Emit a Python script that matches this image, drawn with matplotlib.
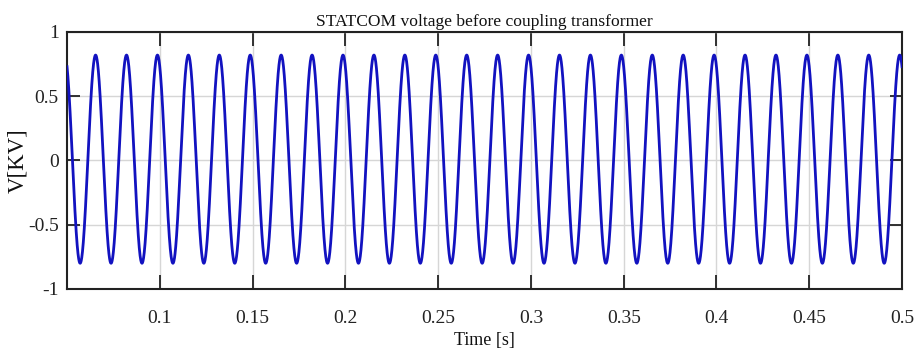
import numpy as np
import matplotlib
matplotlib.use("Agg")
import matplotlib.pyplot as plt

# STATCOM output voltage (kV) before the coupling transformer
freq_hz = 60.0          # fundamental frequency
positive_peak = 0.82    # crest value [kV]
negative_peak = -0.80   # trough value [kV]
first_crest_time = 0.0654  # time of first crest in view [s]
t_start, t_end = 0.05, 0.5

x_ticks = [0.1, 0.15, 0.2, 0.25, 0.3, 0.35, 0.4, 0.45, 0.5]
x_tick_labels = ["0.1", "0.15", "0.2", "0.25", "0.3", "0.35", "0.4", "0.45", "0.5"]
y_ticks = [-1, -0.5, 0, 0.5, 1]
y_tick_labels = ["-1", "-0.5", "0", "0.5", "1"]

t = np.linspace(t_start, t_end, 6000)
amp = (positive_peak - negative_peak) / 2
offset = (positive_peak + negative_peak) / 2
v = offset + amp * np.cos(2 * np.pi * freq_hz * (t - first_crest_time))

plt.rcParams["font.family"] = ["Liberation Serif", "DejaVu Serif"]

fig = plt.figure(figsize=(9.18, 3.63), dpi=100)
ax = fig.add_axes([0.073, 0.204, 0.9096, 0.708])

ax.plot(t, v, color="#1212c0", lw=2.0, zorder=3)

ax.set_xlim(t_start, t_end)
ax.set_ylim(-1, 1)
ax.set_xticks(x_ticks)
ax.set_xticklabels(x_tick_labels)
ax.set_yticks(y_ticks)
ax.set_yticklabels(y_tick_labels)

ax.grid(True, color="#d6d6d6", lw=1.0, zorder=0)
ax.tick_params(direction="in", top=True, right=True, length=9, width=1.3,
               labelsize=14, colors="#222222")
ax.tick_params(axis="y", pad=6)
ax.tick_params(axis="x", length=10, pad=15)
for s in ax.spines.values():
    s.set_linewidth(1.5)
    s.set_color("#222222")

ax.set_title("STATCOM voltage before coupling transformer", fontsize=12.6,
             pad=4, color="#111111")
ax.set_xlabel("Time [s]", fontsize=13, labelpad=4, color="#111111")
ax.set_ylabel("V[KV]", fontsize=16.5, color="#111111")
ax.yaxis.set_label_coords(-0.047, 0.5)

fig.savefig("out.png", dpi=100)
